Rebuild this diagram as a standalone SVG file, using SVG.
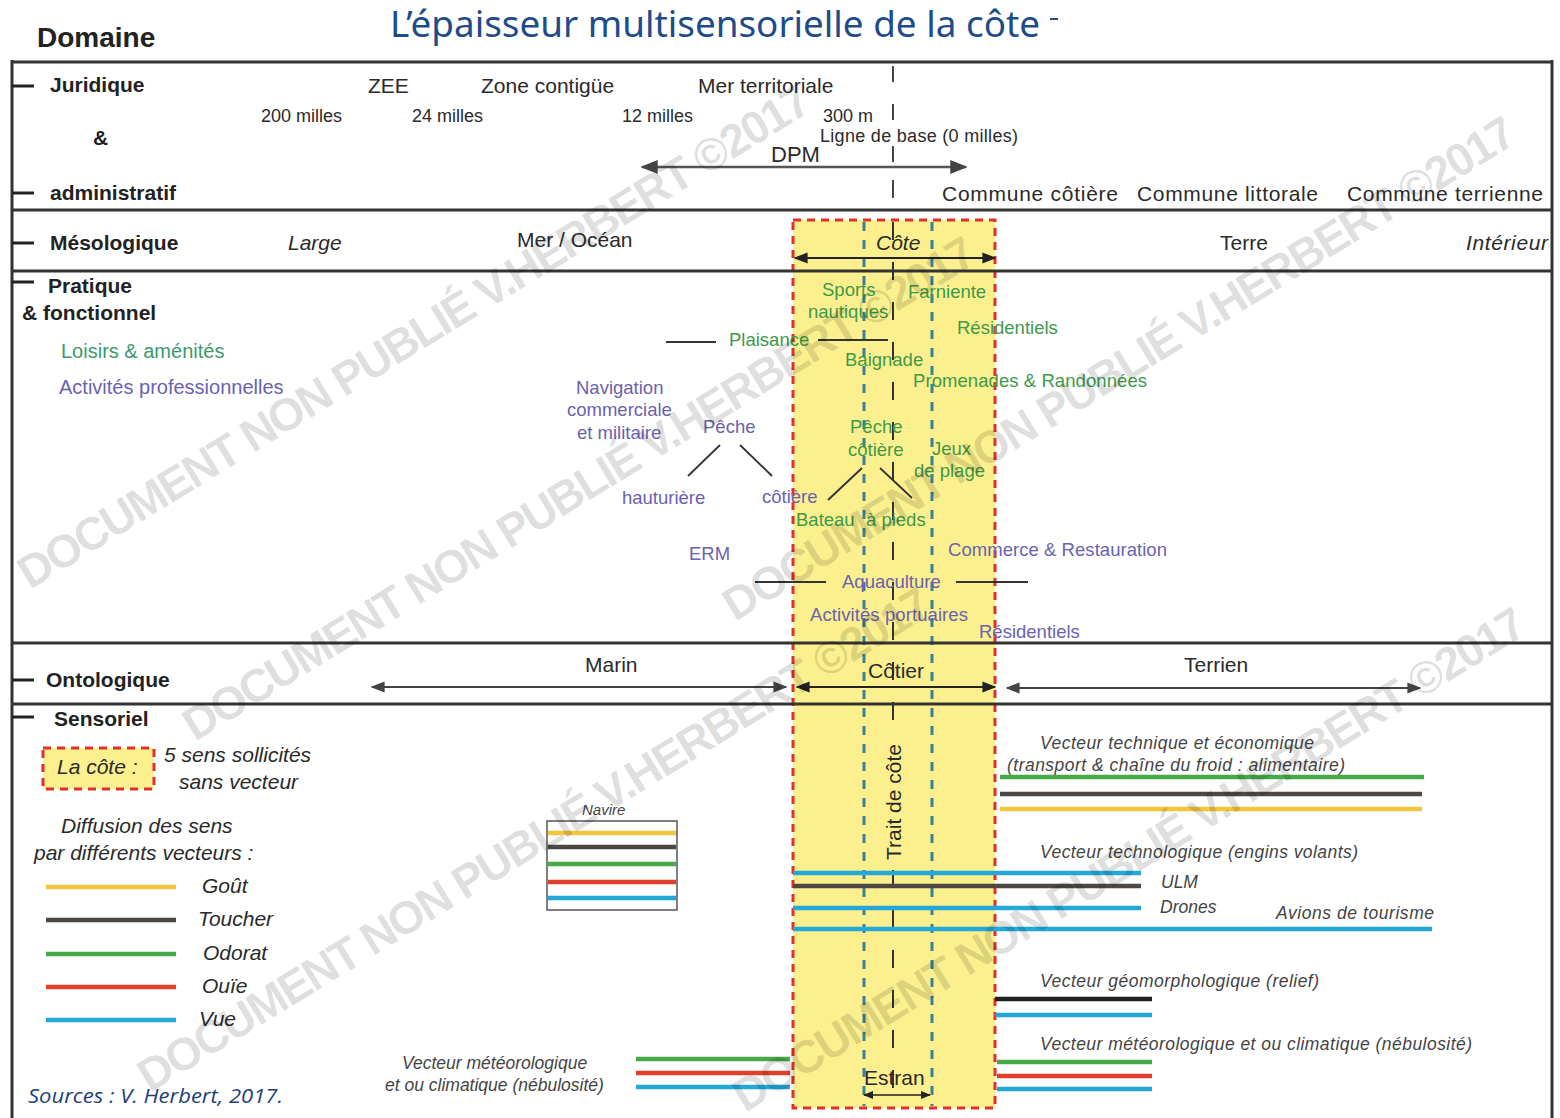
<svg xmlns="http://www.w3.org/2000/svg" width="1560" height="1118" viewBox="0 0 1560 1118">
<style>
text{font-family:"Liberation Sans",Arial,sans-serif;fill:#2a2a2a}
.lbl{font-weight:bold;font-size:21px;fill:#222}
.reg{font-size:21px}
.sm{font-size:18px}
.it{font-style:italic}
.g{fill:#3d9a4a;font-size:18.5px}
.p{fill:#6a62b0;font-size:18.5px}
.vec{font-style:italic;font-size:17.5px;fill:#444}
.sep{stroke:#333;stroke-width:3;fill:none}
.tick{stroke:#222;stroke-width:3}
.blk{stroke:#333;stroke-width:1.8}
.wm{font-weight:bold;font-size:46px;fill:#000;fill-opacity:0.13}
.gout{stroke:#f2c53d;stroke-width:4.5}
.touch{stroke:#4d4843;stroke-width:4.5}
.odor{stroke:#47a947;stroke-width:4.5}
.ouie{stroke:#e0402a;stroke-width:4.5}
.vue{stroke:#23a8d8;stroke-width:4.5}
.red{stroke:#e0302a;stroke-width:3;stroke-dasharray:8 6;fill:none}
.blue{stroke:#3b7f98;stroke-width:3;stroke-dasharray:9 9}
.bdash{stroke:#333;stroke-width:2;stroke-dasharray:18 22}
</style>
<defs>
<marker id="ah" viewBox="0 0 10 10" refX="9" refY="5" markerWidth="7" markerHeight="7" orient="auto-start-reverse"><path d="M0,1 L10,5 L0,9 Z" fill="#222"/></marker>
<marker id="ahg" viewBox="0 0 10 10" refX="9" refY="5" markerWidth="7" markerHeight="7" orient="auto-start-reverse"><path d="M0,1 L10,5 L0,9 Z" fill="#444"/></marker>
</defs>
<rect width="1560" height="1118" fill="#fff"/>

<!-- title -->
<g id="title">
<text x="390" y="37" font-family="Noto Sans" style="font-family:'Noto Sans',sans-serif;font-size:36px;fill:#1e4c8a" textLength="650" lengthAdjust="spacingAndGlyphs">L’épaisseur multisensorielle de la côte</text>
<line x1="1050" y1="19" x2="1058" y2="19" stroke="#1e4c8a" stroke-width="2"/>
<text x="37" y="47" style="font-weight:bold;font-size:28px;fill:#222">Domaine</text>
</g>

<!-- coastal band -->
<g id="band">
<rect x="793" y="220" width="202" height="888" fill="#fcf08e"/>
<rect x="793" y="220" width="202" height="888" class="red"/>
<line x1="864" y1="222" x2="864" y2="1106" class="blue"/>
<line x1="932" y1="222" x2="932" y2="1106" class="blue"/>
<line x1="893" y1="222" x2="893" y2="736" class="bdash"/>
<line x1="893" y1="870" x2="893" y2="1106" class="bdash"/>
</g>

<!-- frame -->
<g id="frame">
<line x1="12" y1="62" x2="1552" y2="62" class="sep"/>
<line x1="12" y1="60" x2="12" y2="1118" class="sep"/>
<line x1="1552" y1="60" x2="1552" y2="1118" class="sep"/>
<line x1="12" y1="210" x2="1552" y2="210" class="sep"/>
<line x1="12" y1="271" x2="1552" y2="271" class="sep"/>
<line x1="12" y1="643" x2="1552" y2="643" class="sep"/>
<line x1="12" y1="704" x2="1552" y2="704" class="sep"/>
<line x1="12" y1="86" x2="34" y2="86" class="tick"/>
<line x1="12" y1="193" x2="34" y2="193" class="tick"/>
<line x1="12" y1="243" x2="34" y2="243" class="tick"/>
<line x1="12" y1="282" x2="34" y2="282" class="tick"/>
<line x1="12" y1="680" x2="34" y2="680" class="tick"/>
<line x1="12" y1="717" x2="34" y2="717" class="tick"/>
</g>

<!-- row labels -->
<g id="labels">
<text class="lbl" x="50" y="92">Juridique</text>
<text class="lbl" x="93" y="145">&amp;</text>
<text class="lbl" x="50" y="200">administratif</text>
<text class="lbl" x="50" y="250">Mésologique</text>
<text class="lbl" x="48" y="293">Pratique</text>
<text class="lbl" x="22" y="320">&amp; fonctionnel</text>
<text class="lbl" x="46" y="687">Ontologique</text>
<text class="lbl" x="54" y="726">Sensoriel</text>
</g>

<!-- juridique -->
<g id="juridique">
<text class="reg" x="368" y="93">ZEE</text>
<text class="reg" x="481" y="93">Zone contigüe</text>
<text class="reg" x="698" y="93">Mer territoriale</text>
<text class="sm" x="261" y="122">200 milles</text>
<text class="sm" x="412" y="122">24 milles</text>
<text class="sm" x="622" y="122">12 milles</text>
<text class="sm" x="823" y="122">300 m</text>
<text class="sm" x="820" y="142" textLength="198">Ligne de base (0 milles)</text>
<text class="reg" x="771" y="162" style="font-size:22px">DPM</text>
<line x1="642" y1="167" x2="966" y2="167" stroke="#555" stroke-width="2.5" marker-start="url(#ahg)" marker-end="url(#ahg)"/>
<line x1="893" y1="66" x2="893" y2="82" class="blk"/>
<line x1="893" y1="104" x2="893" y2="120" class="blk"/>
<line x1="893" y1="146" x2="893" y2="162" class="blk"/>
<line x1="893" y1="180" x2="893" y2="198" class="blk"/>
<text class="reg" x="942" y="201" textLength="176">Commune côtière</text>
<text class="reg" x="1137" y="201" textLength="181">Commune littorale</text>
<text class="reg" x="1347" y="201" textLength="196">Commune terrienne</text>
</g>

<!-- mesologique -->
<g id="mesologique">
<text class="reg it" x="288" y="250">Large</text>
<text class="reg" x="517" y="247">Mer / Océan</text>
<text class="reg it" x="876" y="250">Côte</text>
<text class="reg" x="1220" y="250">Terre</text>
<text class="reg it" x="1466" y="250" textLength="82">Intérieur</text>
<line x1="795" y1="258" x2="995" y2="258" stroke="#222" stroke-width="2" marker-start="url(#ah)" marker-end="url(#ah)"/>
</g>

<!-- pratique -->
<g id="pratique">
<text style="fill:#3a9a6a;font-size:20px" x="61" y="358">Loisirs &amp; aménités</text>
<text style="fill:#6a62b0;font-size:20px" x="59" y="394">Activités professionnelles</text>
<text class="g" x="822" y="296">Sports</text>
<text class="g" x="808" y="318">nautiques</text>
<text class="g" x="908" y="298">Farniente</text>
<text class="g" x="957" y="334">Résidentiels</text>
<line x1="666" y1="342" x2="716" y2="342" class="blk"/>
<text class="g" x="729" y="346">Plaisance</text>
<line x1="818" y1="340" x2="888" y2="340" class="blk"/>
<text class="g" x="845" y="366">Baignade</text>
<text class="g" x="913" y="387" textLength="234">Promenades &amp; Randonnées</text>
<text class="p" x="576" y="394">Navigation</text>
<text class="p" x="567" y="416">commerciale</text>
<text class="p" x="577" y="439">et militaire</text>
<text class="p" x="703" y="433">Pêche</text>
<line x1="720" y1="445" x2="688" y2="476" class="blk"/>
<line x1="740" y1="445" x2="772" y2="476" class="blk"/>
<text class="p" x="622" y="504">hauturière</text>
<text class="p" x="762" y="503">côtière</text>
<text class="g" x="850" y="433">Pêche</text>
<text class="g" x="848" y="456">côtière</text>
<text class="g" x="932" y="455">Jeux</text>
<text class="g" x="914" y="477">de plage</text>
<line x1="862" y1="468" x2="828" y2="500" class="blk"/>
<line x1="880" y1="468" x2="912" y2="498" class="blk"/>
<text class="g" x="796" y="526">Bateau</text>
<text class="g" x="866" y="526">à pieds</text>
<text class="p" x="689" y="560">ERM</text>
<text class="p" x="948" y="556" textLength="219">Commerce &amp; Restauration</text>
<line x1="755" y1="582" x2="826" y2="582" class="blk"/>
<text class="p" x="842" y="588">Aquaculture</text>
<line x1="956" y1="582" x2="1028" y2="582" class="blk"/>
<text class="p" x="810" y="621" textLength="158">Activités portuaires</text>
<text class="p" x="979" y="638">Résidentiels</text>
</g>

<!-- ontologique -->
<g id="ontologique">
<text class="reg" x="585" y="672">Marin</text>
<line x1="372" y1="687" x2="786" y2="687" stroke="#444" stroke-width="2" marker-start="url(#ahg)" marker-end="url(#ahg)"/>
<text class="reg" x="868" y="678">Côtier</text>
<line x1="797" y1="687" x2="995" y2="687" stroke="#222" stroke-width="2" marker-start="url(#ah)" marker-end="url(#ah)"/>
<text class="reg" x="1184" y="672">Terrien</text>
<line x1="1007" y1="688" x2="1420" y2="688" stroke="#444" stroke-width="2" marker-start="url(#ahg)" marker-end="url(#ahg)"/>
</g>

<!-- sensoriel legend -->
<g id="legend">
<rect x="43" y="748" width="111" height="41" fill="#fcf08e"/>
<rect x="43" y="748" width="111" height="41" class="red"/>
<text class="reg it" x="57" y="774">La côte :</text>
<text class="reg it" x="164" y="762">5 sens sollicités</text>
<text class="reg it" x="179" y="789">sans vecteur</text>
<text class="reg it" x="61" y="833">Diffusion des sens</text>
<text class="reg it" x="34" y="860">par différents vecteurs :</text>
<line x1="46" y1="887" x2="176" y2="887" class="gout"/>
<line x1="46" y1="920" x2="176" y2="920" class="touch"/>
<line x1="46" y1="954" x2="176" y2="954" class="odor"/>
<line x1="46" y1="987" x2="176" y2="987" class="ouie"/>
<line x1="46" y1="1020" x2="176" y2="1020" class="vue"/>
<text class="reg it" x="202" y="893">Goût</text>
<text class="reg it" x="198" y="926">Toucher</text>
<text class="reg it" x="203" y="960">Odorat</text>
<text class="reg it" x="202" y="993">Ouïe</text>
<text class="reg it" x="199" y="1026">Vue</text>
<text x="28" y="1103" style="font-family:'Open Sans',sans-serif;font-style:italic;font-size:20px;fill:#1e3f78" textLength="255" lengthAdjust="spacingAndGlyphs">Sources : V. Herbert, 2017.</text>
</g>

<!-- navire -->
<g id="navire">
<text class="vec" x="582" y="815" style="font-size:15px">Navire</text>
<rect x="547" y="821" width="130" height="89" fill="#fff" stroke="#555" stroke-width="1.5"/>
<line x1="548" y1="833" x2="676" y2="833" class="gout"/>
<line x1="548" y1="847" x2="676" y2="847" class="touch"/>
<line x1="548" y1="864" x2="676" y2="864" class="odor"/>
<line x1="548" y1="882" x2="676" y2="882" class="ouie"/>
<line x1="548" y1="898" x2="676" y2="898" class="vue"/>
</g>

<!-- meteo left -->
<g id="meteo-left">
<text class="vec" x="402" y="1069">Vecteur météorologique</text>
<text class="vec" x="385" y="1091">et ou climatique (nébulosité)</text>
<line x1="636" y1="1059" x2="790" y2="1059" class="odor"/>
<line x1="636" y1="1073" x2="790" y2="1073" class="ouie"/>
<line x1="636" y1="1087" x2="790" y2="1087" class="vue"/>
</g>

<!-- centre -->
<g id="centre">
<text class="reg" transform="translate(901,802) rotate(-90)" text-anchor="middle">Trait de côte</text>
<text class="reg" x="864" y="1085">Estran</text>
<line x1="864" y1="1095" x2="930" y2="1095" stroke="#222" stroke-width="1.5" marker-start="url(#ah)" marker-end="url(#ah)"/>
</g>

<!-- right vectors -->
<g id="vectors">
<text class="vec" x="1040" y="749" textLength="274">Vecteur technique et économique</text>
<text class="vec" x="1007" y="771" textLength="338">(transport &amp; chaîne du froid : alimentaire)</text>
<line x1="1000" y1="777" x2="1424" y2="777" class="odor"/>
<line x1="1000" y1="794" x2="1422" y2="794" class="touch"/>
<line x1="1000" y1="809" x2="1422" y2="809" class="gout"/>
<text class="vec" x="1040" y="858" textLength="318">Vecteur technologique (engins volants)</text>
<line x1="793" y1="873" x2="1141" y2="873" class="vue"/>
<line x1="793" y1="886" x2="1141" y2="886" class="touch"/>
<line x1="793" y1="908" x2="1141" y2="908" class="vue"/>
<line x1="793" y1="929" x2="1432" y2="929" class="vue"/>
<text class="vec" x="1161" y="888">ULM</text>
<text class="vec" x="1160" y="913">Drones</text>
<text class="vec" x="1276" y="919" textLength="158">Avions de tourisme</text>
<text class="vec" x="1040" y="987" textLength="279">Vecteur géomorphologique (relief)</text>
<line x1="995" y1="999" x2="1152" y2="999" stroke="#222" stroke-width="4.5"/>
<line x1="995" y1="1015" x2="1152" y2="1015" class="vue"/>
<text class="vec" x="1040" y="1050" textLength="432">Vecteur météorologique et ou climatique (nébulosité)</text>
<line x1="997" y1="1062" x2="1152" y2="1062" class="odor"/>
<line x1="997" y1="1076" x2="1152" y2="1076" class="ouie"/>
<line x1="997" y1="1089" x2="1152" y2="1089" class="vue"/>
</g>

<!-- watermarks -->
<g id="watermarks">
<text class="wm" transform="translate(30,590) rotate(-31.5)" textLength="920">DOCUMENT NON PUBLIÉ V.HERBERT ©2017</text>
<text class="wm" transform="translate(195,742) rotate(-31.5)" textLength="920">DOCUMENT NON PUBLIÉ V.HERBERT ©2017</text>
<text class="wm" transform="translate(735,622) rotate(-31.5)" textLength="920">DOCUMENT NON PUBLIÉ V.HERBERT ©2017</text>
<text class="wm" transform="translate(150,1093) rotate(-31.5)" textLength="920">DOCUMENT NON PUBLIÉ V.HERBERT ©2017</text>
<text class="wm" transform="translate(745,1113) rotate(-31.5)" textLength="920">DOCUMENT NON PUBLIÉ V.HERBERT ©2017</text>
</g>
</svg>
